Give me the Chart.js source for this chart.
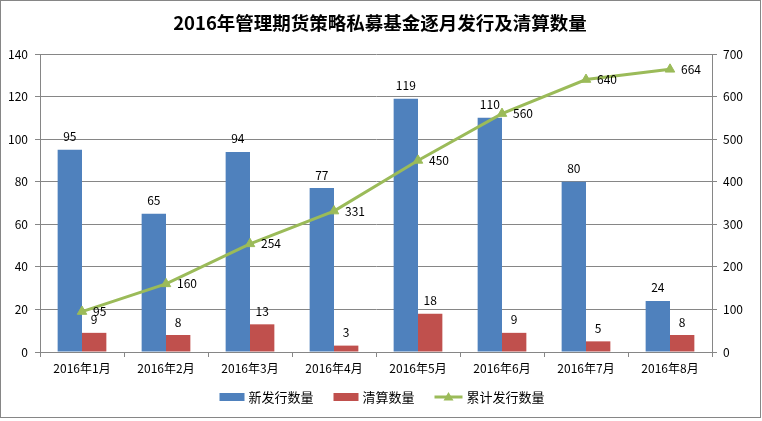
<!DOCTYPE html>
<html><head><meta charset="utf-8">
<script src="https://cdn.jsdelivr.net/npm/chart.js@4"></script>
<style>html,body{margin:0;padding:0;background:#fff}#wrap{width:762px;height:421px;position:relative}</style>
</head><body><div id="wrap"><canvas id="c" width="762" height="421"></canvas></div>
<script>
const chartTitle = '2016年管理期货策略私募基金逐月发行及清算数量';
const categories = ['2016年1月','2016年2月','2016年3月','2016年4月','2016年5月','2016年6月','2016年7月','2016年8月'];
const seriesNames = ['新发行数量','清算数量','累计发行数量'];
const newIssued = [95,65,94,77,119,110,80,24];
const liquidated = [9,8,13,3,18,9,5,8];
const cumulative = [95,160,254,331,450,560,640,664];
const leftAxis = {min:0, max:140, step:20};
const rightAxis = {min:0, max:700, step:100};

const FONT = '"Noto Sans CJK SC", "Noto Sans", sans-serif';
const GRID = '#868686';
const COLORS = ['#4F81BD','#C0504D','#9BBB59'];

const decor = {
  id:'decor',
  beforeDraw(chart){
    const c = chart.ctx;
    c.save();
    c.fillStyle='#fff'; c.fillRect(0,0,chart.width,chart.height);
    c.restore();
  },
  afterDraw(chart){
    const c = chart.ctx;
    c.save();
    c.strokeStyle = GRID; c.lineWidth = 1;
    c.strokeRect(0.5,0.5,760,417);
    c.fillStyle = '#000';
    c.font = 'bold 18.5px ' + FONT;
    c.textAlign='center'; c.textBaseline='middle';
    c.fillText(chartTitle, 380, 23);
    c.font = '12px ' + FONT;
    c.fillStyle = '#000';
    chart.data.datasets.forEach((ds, i) => {
      const meta = chart.getDatasetMeta(i);
      meta.data.forEach((el, j) => {
        const v = ds.data[j];
        if (meta.type === 'bar') {
          c.textAlign='center'; c.textBaseline='middle';
          c.fillText(String(v), el.x, el.y - 13);
        } else {
          c.textAlign='left'; c.textBaseline='middle';
          c.fillText(String(v), el.x + 11, el.y);
        }
      });
    });
    c.font = '13px ' + FONT;
    c.textBaseline='middle'; c.textAlign='left';
    const y = 397;
    const items = chart.data.datasets.map(ds=>({label:ds.label, color:ds.borderColor, line: ds.type==='line'}));
    const boxW = 25, gap = 4, spacing = 20;
    const widths = items.map(it => (it.line?28:boxW) + gap + c.measureText(it.label).width);
    const total = widths.reduce((a,b)=>a+b,0) + spacing*(items.length-1);
    let x = 382 - total/2;
    items.forEach(it => {
      if (it.line) {
        c.strokeStyle = it.color; c.lineWidth = 3;
        c.beginPath(); c.moveTo(x, y); c.lineTo(x+28, y); c.stroke();
        c.fillStyle = it.color;
        c.beginPath(); c.moveTo(x+14, y-5); c.lineTo(x+19, y+3.5); c.lineTo(x+9, y+3.5); c.closePath(); c.fill();
        x += 28 + gap;
      } else {
        c.fillStyle = it.color;
        c.fillRect(x, y-4, boxW, 8);
        x += boxW + gap;
      }
      c.fillStyle = '#000';
      c.fillText(it.label, x, y);
      x += c.measureText(it.label).width + spacing;
    });
    c.restore();
  }
};

new Chart(document.getElementById('c'), {
  type:'bar',
  data:{
    labels: categories,
    datasets:[
      {label:seriesNames[0], data:newIssued, yAxisID:'y', backgroundColor:COLORS[0], borderColor:COLORS[0], order:1,
       categoryPercentage:0.58, barPercentage:1},
      {label:seriesNames[1], data:liquidated, yAxisID:'y', backgroundColor:COLORS[1], borderColor:COLORS[1], order:1,
       categoryPercentage:0.58, barPercentage:1},
      {type:'line', label:seriesNames[2], data:cumulative, yAxisID:'y1', order:0,
       borderColor:COLORS[2], backgroundColor:COLORS[2], borderWidth:3,
       pointStyle:'triangle', pointRadius:5.5, pointBackgroundColor:COLORS[2], pointBorderColor:COLORS[2], pointBorderWidth:1, tension:0}
    ]
  },
  options:{
    responsive:false, animation:false,
    layout:{padding:{top:54, left:0, right:0, bottom:0}},
    plugins:{legend:{display:false}, title:{display:false}, tooltip:{enabled:false}},
    scales:{
      x:{
        offset:true,
        grid:{offset:true, drawOnChartArea:false, drawTicks:true, tickLength:5, color:GRID},
        border:{color:GRID},
        ticks:{font:{family:FONT, size:12}, color:'#000', padding:4, maxRotation:0, autoSkip:false},
        afterFit(s){ s.height = 69; }
      },
      y:{
        position:'left', min:leftAxis.min, max:leftAxis.max,
        grid:{color:GRID, tickLength:5},
        border:{color:GRID},
        ticks:{stepSize:leftAxis.step, font:{family:FONT, size:12}, color:'#000', padding:7},
        afterFit(s){ s.width = 40; }
      },
      y1:{
        position:'right', min:rightAxis.min, max:rightAxis.max,
        grid:{drawOnChartArea:false, color:GRID, tickLength:5},
        border:{color:GRID},
        ticks:{stepSize:rightAxis.step, font:{family:FONT, size:12}, color:'#000', padding:6},
        afterFit(s){ s.width = 50; }
      }
    }
  },
  plugins:[decor]
});
</script></body></html>
